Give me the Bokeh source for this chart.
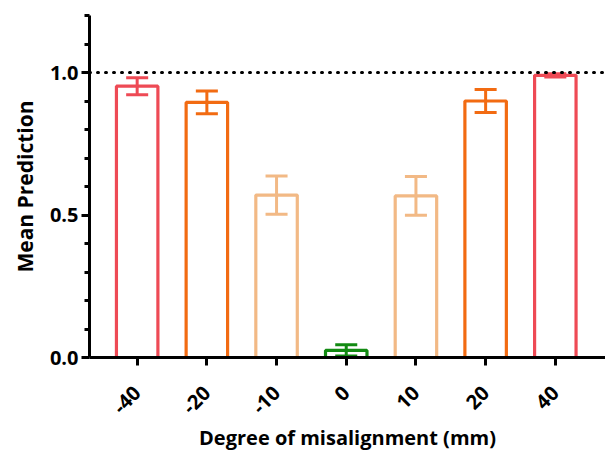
from bokeh.plotting import figure
from bokeh.models import ColumnDataSource, Range1d, FixedTicker, Span, NumeralTickFormatter
from bokeh.embed import file_html
from bokeh.resources import INLINE
import numpy as np

# ---- data ----
categories = ["-40", "-20", "-10", "0", "10", "20", "40"]
means = [0.952, 0.895, 0.570, 0.025, 0.567, 0.900, 0.990]
errors = [0.030, 0.040, 0.067, 0.020, 0.068, 0.040, 0.006]
colors = ["#EE4A55", "#F26B12", "#F2B985", "#128A12", "#F2B985", "#F26B12", "#EE4A55"]
y_major = [0.0, 0.5, 1.0]
y_minor = [0.1, 0.2, 0.3, 0.4, 0.6, 0.7, 0.8, 0.9, 1.1, 1.2]
reference_level = 1.0

FONT = "Open Sans"
x = np.arange(len(categories), dtype=float)
m = np.array(means)
e = np.array(errors)
cap_half = 0.158

src = ColumnDataSource(dict(
    x=x, top=m, lo=m - e, hi=m + e, color=colors,
    cx0=x - cap_half, cx1=x + cap_half,
))

p = figure(width=605, height=454, output_backend="svg", toolbar_location=None,
           x_range=Range1d(-0.684, 6.72), y_range=Range1d(0, 1.2),
           min_border_left=89, min_border_right=0, min_border_top=15, min_border_bottom=97)
p.outline_line_color = None
p.xgrid.visible = False
p.ygrid.visible = False
p.background_fill_color = "white"
p.border_fill_color = "white"

# reference dotted line
span = Span(location=reference_level, dimension="width", line_color="black",
            line_width=3, line_dash="1 7", line_cap="round", line_dash_offset=-8)
p.add_layout(span)

# bars
p.vbar(x="x", top="top", bottom=0, width=0.595, source=src,
       fill_color="white", line_color="color", line_width=3.2)

# error bars
p.segment(x0="x", y0="lo", x1="x", y1="hi", source=src, line_color="color", line_width=3)
p.segment(x0="cx0", y0="hi", x1="cx1", y1="hi", source=src, line_color="color", line_width=3)
p.segment(x0="cx0", y0="lo", x1="cx1", y1="lo", source=src, line_color="color", line_width=3)

# axes
for ax in (p.xaxis[0], p.yaxis[0]):
    ax.axis_line_width = 3
    ax.axis_line_color = "black"
    ax.major_tick_line_width = 3
    ax.minor_tick_line_width = 3
    ax.major_tick_line_color = "black"
    ax.minor_tick_line_color = "black"
    ax.major_tick_out = 8
    ax.major_tick_in = 0
    ax.minor_tick_in = 0
    ax.major_label_text_font = FONT
    ax.major_label_text_font_style = "bold"
    ax.major_label_text_font_size = "20px"
    ax.major_label_text_color = "black"
    ax.axis_label_text_font = FONT
    ax.axis_label_text_font_style = "bold"
    ax.axis_label_text_color = "black"

p.yaxis.ticker = FixedTicker(ticks=y_major, minor_ticks=y_minor)
p.yaxis.formatter = NumeralTickFormatter(format="0.0")
p.yaxis.minor_tick_out = 5
p.yaxis.major_label_standoff = 3
p.yaxis.axis_label = "Mean Prediction"
p.yaxis.axis_label_text_font_size = "21px"
p.yaxis.axis_label_standoff = 8

p.xaxis.ticker = FixedTicker(ticks=list(x), minor_ticks=[])
p.xaxis.major_label_overrides = {float(i): c for i, c in enumerate(categories)}
p.xaxis.major_label_orientation = np.pi / 4
p.xaxis.major_label_standoff = 24
p.xaxis.axis_label = "Degree of misalignment (mm)"
p.xaxis.axis_label_text_font_size = "20px"
p.xaxis.axis_label_standoff = 1

open("out.html", "w").write(file_html(p, INLINE))
